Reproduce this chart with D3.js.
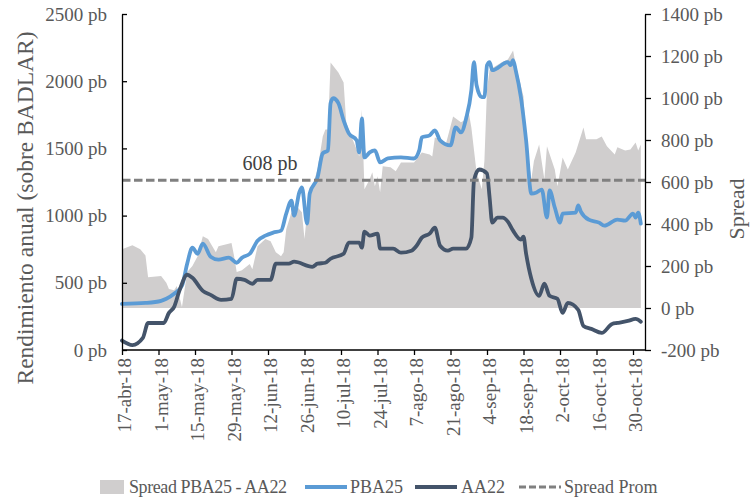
<!DOCTYPE html>
<html>
<head>
<meta charset="utf-8">
<script src="https://cdn.jsdelivr.net/npm/d3@7"></script>
<style>
body { margin: 0; background: #fff; }
text { font-family: "Liberation Serif", serif; fill: #595959; }
</style>
</head>
<body>
<script>

// spread PBA25 - AA22 (right axis)
var spreadDates = ["04-17","04-21","04-24","04-26","04-27","05-02","05-04","05-05","05-07","05-08","05-10","05-12","05-14","05-16","05-18","05-20","05-23","05-24","05-29","05-30","05-31","06-02","06-05","06-06","06-08","06-11","06-13","06-15","06-17","06-18","06-19","06-21","06-22","06-23","06-25","06-26","06-27","06-29","07-01","07-03","07-04","07-05","07-06","07-09","07-11","07-12","07-14","07-16","07-17","07-18","07-19","07-21","07-22","07-23","07-24","07-25","07-26","07-29","07-31","08-02","08-07","08-10","08-13","08-14","08-15","08-17","08-19","08-22","08-25","08-27","08-28","08-29","08-31","09-02","09-03","09-04","09-05","09-10","09-12","09-14","09-15","09-18","09-19","09-21","09-22","09-24","09-26","09-27","09-30","10-01","10-02","10-03","10-05","10-08","10-11","10-12","10-16","10-18","10-20","10-23","10-24","10-27","10-29","10-31","11-01","11-02"];
var spreadValues = [280,299,280,250,147,152,120,90,85,105,5,171,200,247,342,328,266,294,309,247,171,180,209,185,294,328,318,266,247,266,375,456,437,485,456,328,456,580,660,817,850,850,1169,1121,1074,884,817,755,722,945,565,613,646,580,627,551,675,670,651,693,693,741,731,722,812,803,770,912,884,898,931,860,646,565,700,1040,1135,1173,1183,1226,1159,1007,788,613,700,779,613,770,660,580,646,717,660,741,860,803,803,817,770,731,765,750,755,788,750,779];

// PBA25 (left axis)
var pbaDates = ["04-17","04-26","05-02","05-04","05-07","05-10","05-12","05-14","05-16","05-18","05-21","05-24","05-28","05-31","06-02","06-05","06-08","06-11","06-14","06-17","06-19","06-21","06-22","06-24","06-25","06-27","06-28","07-01","07-03","07-05","07-06","07-07","07-09","07-11","07-13","07-16","07-17","07-18","07-19","07-21","07-23","07-25","07-28","08-02","08-07","08-09","08-10","08-13","08-15","08-17","08-21","08-23","08-25","08-27","08-29","08-30","08-31","09-02","09-03","09-04","09-05","09-06","09-12","09-13","09-14","09-15","09-17","09-19","09-21","09-23","09-25","09-27","09-28","09-30","10-02","10-03","10-08","10-09","10-10","10-13","10-17","10-19","10-24","10-27","10-30","10-31","11-01","11-02"];
var pbaValues = [343,350,366,381,418,478,642,761,716,791,694,672,687,649,687,716,813,851,873,888,1015,1112,1000,1172,1209,940,1164,1284,1463,1485,1836,1873,1836,1709,1612,1560,1470,1724,1433,1470,1485,1396,1425,1433,1425,1485,1582,1597,1634,1560,1522,1657,1619,1724,1933,2142,1970,1881,1881,2119,2142,2082,2142,2119,2157,2082,1881,1560,1164,1172,1194,985,1187,1060,948,1015,1022,1075,1030,970,948,925,970,963,1015,985,1022,940];

// AA22 (left axis)
var aaDates = ["04-17","04-21","04-25","04-27","05-03","05-05","05-07","05-09","05-12","05-14","05-18","05-21","05-25","05-29","05-31","06-03","06-06","06-08","06-13","06-15","06-20","06-22","06-29","07-01","07-04","07-06","07-11","07-13","07-17","07-18","07-19","07-21","07-24","07-25","07-30","08-02","08-06","08-08","08-10","08-13","08-15","08-17","08-20","08-22","08-27","08-29","08-30","09-01","09-04","09-05","09-06","09-08","09-10","09-12","09-14","09-17","09-18","09-19","09-21","09-24","09-26","09-28","10-01","10-03","10-05","10-09","10-11","10-14","10-18","10-22","10-24","10-28","10-31","11-02"];
var aaValues = [70,37,90,201,201,276,321,440,560,537,440,410,373,381,530,522,493,522,522,642,642,657,619,642,649,679,716,799,799,761,881,851,866,754,754,724,739,776,836,866,910,776,739,754,754,836,1261,1343,1313,1134,948,985,985,955,888,821,843,716,530,403,493,403,381,276,351,299,179,157,127,194,201,216,231,210];

var spreadAvg = 608;

var tickDates = ["04-17","05-01","05-15","05-29","06-12","06-26","07-10","07-24","08-07","08-21","09-04","09-18","10-02","10-16","10-30"];
var tickLabels = ["17-abr-18","1-may-18","15-may-18","29-may-18","12-jun-18","26-jun-18","10-jul-18","24-jul-18","7-ago-18","21-ago-18","4-sep-18","18-sep-18","2-oct-18","16-oct-18","30-oct-18"];

var leftTicks = [0, 500, 1000, 1500, 2000, 2500];
var rightTicks = [-200, 0, 200, 400, 600, 800, 1000, 1200, 1400];

var width = 754,
    height = 501,
    plotLeft = 122,
    plotRight = 645,
    plotTop = 14,
    plotBottom = 350;

var parse = d3.utcParse("%Y-%m-%d");
function toDate(s) { return parse("2018-" + s); }

function rows(dates, values) {
    return dates.map(function(d, i) {
        return { date: toDate(d), v: values[i] };
    });
}

var spread = rows(spreadDates, spreadValues),
    pba = rows(pbaDates, pbaValues),
    aa = rows(aaDates, aaValues);

var svg = d3.select("body")
    .append("svg")
    .attr("width", width)
    .attr("height", height);

var x = d3.scaleUtc()
    .domain([toDate("04-17"), toDate("10-30")])
    .range([plotLeft, 633]);

var yL = d3.scaleLinear().domain([0, 2500]).range([plotBottom, plotTop]);
var yR = d3.scaleLinear().domain([-200, 1400]).range([plotBottom, plotTop]);

// spread area
svg.append("path")
    .datum(spread)
    .attr("fill", "#d0cece")
    .attr("d", d3.area()
        .x(function(d) { return x(d.date); })
        .y0(yR(0))
        .y1(function(d) { return yR(d.v); }));

var lineL = d3.line()
    .curve(d3.curveMonotoneX)
    .x(function(d) { return x(d.date); })
    .y(function(d) { return yL(d.v); });

svg.append("path")
    .datum(pba)
    .attr("fill", "none")
    .attr("stroke", "#5b9bd5")
    .attr("stroke-width", 3.8)
    .attr("stroke-linejoin", "round")
    .attr("stroke-linecap", "round")
    .attr("d", lineL);

svg.append("path")
    .datum(aa)
    .attr("fill", "none")
    .attr("stroke", "#44546a")
    .attr("stroke-width", 3.8)
    .attr("stroke-linejoin", "round")
    .attr("stroke-linecap", "round")
    .attr("d", lineL);

// average spread
svg.append("line")
    .attr("x1", plotLeft)
    .attr("x2", plotRight)
    .attr("y1", yR(spreadAvg))
    .attr("y2", yR(spreadAvg))
    .attr("stroke", "#808080")
    .attr("stroke-width", 3)
    .attr("stroke-dasharray", "8.5,3.5");

svg.append("text")
    .attr("x", 270)
    .attr("y", yR(spreadAvg) - 10)
    .attr("text-anchor", "middle")
    .style("font-size", "20px")
    .style("fill", "#404040")
    .text(spreadAvg + " pb");

// axes
var axisL = svg.append("g")
    .attr("transform", "translate(" + plotLeft + ",0)")
    .call(d3.axisLeft(yL)
        .tickValues(leftTicks)
        .tickSize(-5)
        .tickSizeOuter(0)
        .tickPadding(15)
        .tickFormat(function(d) { return d + " pb"; }));

var axisR = svg.append("g")
    .attr("transform", "translate(" + plotRight + ",0)")
    .call(d3.axisRight(yR)
        .tickValues(rightTicks)
        .tickSize(6)
        .tickSizeOuter(0)
        .tickPadding(10)
        .tickFormat(function(d) { return d + " pb"; }));

var axisB = svg.append("g")
    .attr("transform", "translate(0," + plotBottom + ")")
    .call(d3.axisBottom(x)
        .tickValues(tickDates.map(toDate))
        .tickSize(5)
        .tickSizeOuter(0)
        .tickFormat(function(d, i) { return tickLabels[i]; }));

axisB.select(".domain").remove();
svg.append("line")
    .attr("x1", plotLeft).attr("x2", plotRight)
    .attr("y1", plotBottom).attr("y2", plotBottom)
    .attr("stroke", "#000")
    .attr("stroke-width", 1.3);

axisB.selectAll("text")
    .attr("transform", "rotate(-90)")
    .attr("x", -8)
    .attr("y", 2)
    .attr("dy", "0.35em")
    .attr("text-anchor", "end");

[axisL, axisR, axisB].forEach(function(a) {
    a.selectAll(".domain, line").attr("stroke", "#000").attr("stroke-width", 1.3);
    a.selectAll("text").style("font-size", "19px").style("fill", "#595959");
});

// axis titles
svg.append("text")
    .attr("transform", "translate(33,208) rotate(-90)")
    .attr("text-anchor", "middle")
    .style("font-size", "23.5px")
    .text("Rendimiento anual (sobre BADLAR)");

svg.append("text")
    .attr("transform", "translate(744,209) rotate(-90)")
    .attr("text-anchor", "middle")
    .style("font-size", "22px")
    .text("Spread");

// legend
var legend = svg.append("g").style("font-size", "18px");

legend.append("rect")
    .attr("x", 100).attr("y", 480)
    .attr("width", 24).attr("height", 14)
    .attr("fill", "#d0cece");
legend.append("text").attr("x", 129).attr("y", 493)
    .attr("textLength", 158).text("Spread PBA25 - AA22");

legend.append("line")
    .attr("x1", 305).attr("x2", 347).attr("y1", 487).attr("y2", 487)
    .attr("stroke", "#5b9bd5").attr("stroke-width", 4);
legend.append("text").attr("x", 350).attr("y", 493).text("PBA25");

legend.append("line")
    .attr("x1", 415).attr("x2", 457).attr("y1", 487).attr("y2", 487)
    .attr("stroke", "#44546a").attr("stroke-width", 4);
legend.append("text").attr("x", 461).attr("y", 493).text("AA22");

legend.append("line")
    .attr("x1", 519).attr("x2", 561).attr("y1", 487).attr("y2", 487)
    .attr("stroke", "#808080").attr("stroke-width", 3)
    .attr("stroke-dasharray", "7,3");
legend.append("text").attr("x", 564).attr("y", 493).text("Spread Prom");

</script>
</body>
</html>
